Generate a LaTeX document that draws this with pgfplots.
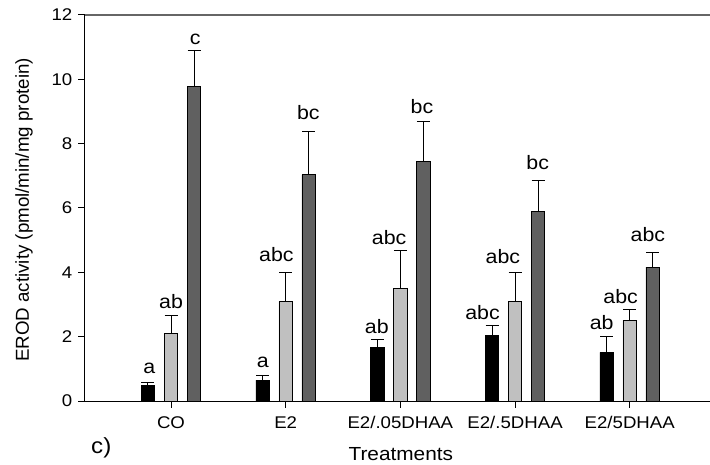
\documentclass[border=0pt]{standalone}
\usepackage{fontspec}
\setmainfont{Liberation Sans}[FakeStretch=1.1]
\newfontfamily\ylabfont{Liberation Sans}
\usepackage{pgfplots}
\usepackage{pgfplotstable}
\pgfplotsset{compat=1.18}

\definecolor{barblack}{RGB}{0,0,0}
\definecolor{barlight}{RGB}{192,192,192}
\definecolor{bardark}{RGB}{96,96,96}

% mean and upper error for each treatment (x = treatment index)
\pgfplotstableread{
x m e
0 0.48 0.10
1 0.65 0.14
2 1.66 0.26
3 2.05 0.29
4 1.51 0.51
}\seriesblack
\pgfplotstableread{
x m e
0 2.10 0.57
1 3.09 0.91
2 3.49 1.19
3 3.09 0.92
4 2.51 0.32
}\serieslight
\pgfplotstableread{
x m e
0 9.78 1.11
1 7.03 1.36
2 7.45 1.24
3 5.90 0.95
4 4.16 0.47
}\seriesdark
% significance letters (baseline positions)
\pgfplotstableread{
x y lab
-0.19 0.84 a
0.00 2.88 ab
0.21 11.07 c
0.80 1.04 a
0.919 4.33 abc
1.198 8.76 bc
1.795 2.10 ab
1.902 4.85 abc
2.188 8.94 bc
2.716 2.52 abc
2.894 4.26 abc
3.198 7.20 bc
3.755 2.23 ab
3.921 3.04 abc
4.158 4.95 abc
}\letters

\begin{document}
\begin{tikzpicture}
\path[use as bounding box] (-85bp,-64bp) rectangle (625bp,401bp);
\begin{axis}[
  at={(0,0)}, anchor=south west,
  scale only axis, width=625bp, height=386bp,
  xmin=-0.75, xmax=4.70, ymin=0, ymax=12,
  clip=false,
  axis x line*=bottom, axis y line*=left,
  axis line style={line width=1bp, black},
  xtick={0,...,4},
  xticklabels={CO,E2,E2/.05DHAA,E2/.5DHAA,E2/5DHAA},
  ytick={0,2,...,12},
  tick align=outside, major tick length=6.5bp,
  tick style={black, line width=1bp},
  /pgf/number format/assume math mode=true,
  ticklabel style={font=\fontsize{17}{20}\selectfont},
  xticklabel style={anchor=base, inner sep=0pt, yshift=-21bp},
  yticklabel style={anchor=east, inner sep=0pt, xshift=-6bp},
  xlabel={Treatments},
  xlabel style={at={([yshift=-59.7bp]axis description cs:0.5053,0)},
    anchor=base, inner sep=0pt, font=\fontsize{19}{22}\selectfont},
  ylabel={\ylabfont EROD activity (pmol/min/mg protein)},
  ylabel style={at={([xshift=-61bp]axis description cs:0,0.4948)},
    anchor=center, inner sep=0pt, font=\fontsize{18.8}{22}\selectfont},
  every node near coord/.append style={font=\fontsize{19.5}{22}\selectfont,
    anchor=base, inner sep=0pt, black},
  bar style/.style={ybar, bar width=13.5bp, bar shift=0bp, draw=black,
    line width=0.8bp,
    error bars/y dir=plus, error bars/y explicit,
    error bars/error bar style={black, line width=1bp},
    error bars/error mark options={rotate=90, black, line width=1bp,
      mark size=6.5bp}},
]
\addplot[bar style, fill=barblack]
  table[x expr=\thisrow{x}-0.2007, y=m, y error=e]{\seriesblack};
\addplot[bar style, fill=barlight]
  table[x=x, y=m, y error=e]{\serieslight};
\addplot[bar style, fill=bardark]
  table[x expr=\thisrow{x}+0.2007, y=m, y error=e]{\seriesdark};
\addplot[draw=none, mark=none, nodes near coords, point meta=explicit symbolic]
  table[x=x, y=y, meta=lab]{\letters};
\draw[black!60, line width=1.2bp] (rel axis cs:0,1) -- (rel axis cs:1,1);
\node[anchor=base west, inner sep=0pt, font=\fontsize{22}{26}\selectfont]
  at ([shift={(6bp,-52bp)}]rel axis cs:0,0) {c)};
\end{axis}
\end{tikzpicture}
\end{document}
